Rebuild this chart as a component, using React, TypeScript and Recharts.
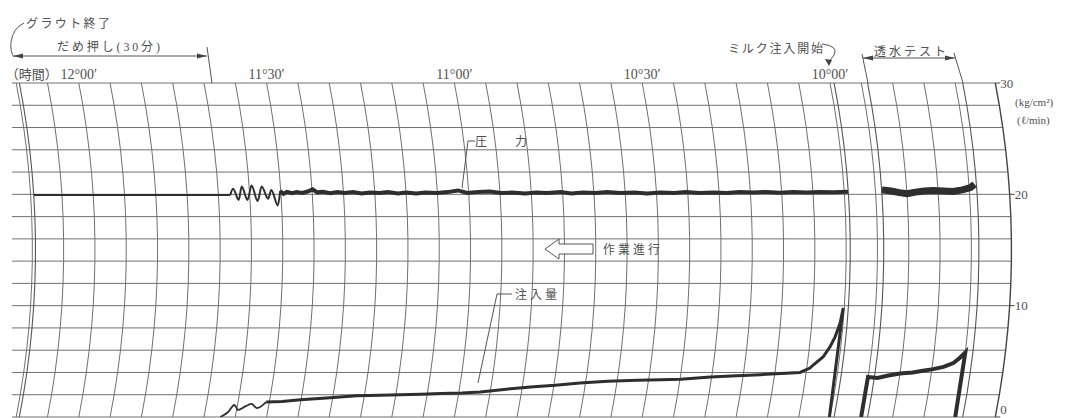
import React from "react";
import { LineChart, Line, XAxis, YAxis, ReferenceLine } from "recharts";

// time = minutes after 10:00 (the recorder runs right to left)
const timeTicks = [0, 30, 60, 90, 120];
const timeLabels = ["10°00′", "10°30′", "11°00′", "11°30′", "12°00′"];
const valueTicks = [0, 10, 20, 30];
const valueLevels = [0, 2, 4, 6, 8, 10, 12, 14, 16, 18, 20, 22, 24, 26, 28, 30];
const gridMinutes = [
  -20, -15, -10, -5, 0, 5, 10, 15, 20, 25, 30, 35, 40, 45, 50, 55, 60, 65, 70, 75, 80, 85, 90, 95, 100,
  105, 110, 115, 120, 125, 130,
];
const penSweeps = [129.5, -0.65, -6.0, -21.2];
const AXIS_T = -26.4;

// 圧力 (kg/cm²): hold period, swing after the pump stops, grouting, permeability test
const pressureHold = [[129.5, 19.95], [98.1, 19.95]];
const pressureSwing = [
  [98.1, 19.95], [97.6, 20.5], [96.8, 19.5], [96.2, 20.7], [95.4, 19.5], [94.6, 20.8],
  [93.8, 19.4], [93.0, 20.7], [92.1, 19.6], [91.5, 20.4], [90.6, 19.0], [90.1, 20.3],
];
const pressureGrout = [
  [90.1, 20.3], [89.6, 20.05], [89.0, 20.22], [88.2, 20.1], [87.5, 20.2], [86.6, 20.12], [85.7, 20.25],
  [84.9, 20.45], [84.2, 20.18], [83.3, 20.22], [82.1, 20.1], [81.0, 20.2], [79.8, 20.12], [78.5, 20.2],
  [77.1, 20.08], [75.8, 20.17], [74.2, 20.12], [72.9, 20.2], [71.3, 20.08], [70.0, 20.16], [68.4, 20.08],
  [66.9, 20.16], [65.1, 20.12], [63.4, 20.2], [61.7, 20.35], [60.2, 20.12], [58.5, 20.22], [56.6, 20.26],
  [54.8, 20.12], [53.1, 20.16], [51.0, 20.08], [49.2, 20.16], [47.5, 20.12], [45.3, 20.2], [43.6, 20.08],
  [41.8, 20.16], [39.7, 20.12], [37.9, 20.2], [35.8, 20.12], [33.6, 20.16], [31.5, 20.08], [29.4, 20.16],
  [27.2, 20.12], [25.3, 20.2], [23.1, 20.12], [21.0, 20.16], [18.8, 20.12], [16.7, 20.22], [14.5, 20.16],
  [12.4, 20.22], [10.3, 20.14], [8.2, 20.22], [6.0, 20.16], [3.9, 20.22], [1.8, 20.18], [-0.6, 20.24],
];
const pressureTest = [
  [-6.04, 20.4], [-7.5, 20.3], [-8.8, 20.15], [-10.0, 20.05], [-11.4, 20.2], [-12.8, 20.3],
  [-14.2, 20.35], [-15.8, 20.3], [-17.4, 20.25], [-18.9, 20.4], [-20.2, 20.6], [-20.9, 20.9],
];

// 注入量 (l/min)
const flowSettle = [
  [97.4, 0], [96.3, 0.45], [95.5, 1.08], [94.8, 0.63], [93.6, 1.0], [92.8, 1.17], [91.8, 0.8], [90.5, 1.35],
];
const flowGrout = [
  [90.5, 1.35], [88.0, 1.4], [85.1, 1.55], [81.0, 1.7], [76.2, 1.9], [72.5, 1.95], [69.3, 2.0],
  [66.0, 2.05], [62.9, 2.1], [59.5, 2.15], [56.6, 2.25], [52.5, 2.5], [48.7, 2.7], [44.8, 2.85],
  [40.9, 3.05], [36.5, 3.2], [31.8, 3.3], [28.0, 3.35], [24.9, 3.4], [20.2, 3.6], [16.0, 3.7],
  [12.3, 3.8], [9.0, 3.9], [6.0, 4.0], [4.5, 4.4], [4.06, 4.67], [2.64, 5.39], [1.73, 6.29],
  [1.09, 7.18], [0.48, 8.44], [0.16, 9.79], [0.1, 0],
];
const flowTest = [
  [-4.97, 0], [-4.97, 3.6], [-6.5, 3.5], [-8.0, 3.7], [-10.0, 3.9], [-12.0, 4.0], [-13.6, 4.15],
  [-15.2, 4.3], [-16.8, 4.5], [-18.3, 4.85], [-19.2, 5.3], [-20.0, 5.8], [-20.0, 0],
];

const W = 1072;
const H = 418;
const MARGIN = { top: 63, right: 17, bottom: 1, left: 12 };
const X_AXIS_H = 20;
const Y_AXIS_W = 40;
const T_MAX = 130.67;
const T_MIN = -29.55;
const PLOT_W = W - MARGIN.left - MARGIN.right - Y_AXIS_W;
const PLOT_H = H - MARGIN.top - MARGIN.bottom - X_AXIS_H;
const PPM = PLOT_W / (T_MAX - T_MIN);
const PPU = PLOT_H / 30;
const ARC_R = 870;

const FONT = "'Liberation Serif', 'Noto Sans CJK JP', serif";
const GRID = "#707070";
const INK = "#2e2e2e";
const TEXT = "#505050";

// recorder paper: time lines are arcs, pen follows the same arc
const bulge = (v: number) =>
  Math.sqrt(ARC_R ** 2 - ((v - 15) * PPU) ** 2) - Math.sqrt(ARC_R ** 2 - (15 * PPU) ** 2);
const onArc = (t: number, v: number) => t - bulge(v) / PPM;
const toPoints = (rows: number[][]) => rows.map(([t, v]) => ({ x: onArc(t, v), y: v }));
const arc = (t: number) => valueLevels.map((v) => ({ x: onArc(t, v), y: v }));

function TimeTick({ x, y, payload }: any) {
  const label = timeLabels[timeTicks.indexOf(payload.value)];
  return (
    <g fontFamily={FONT} fill={TEXT}>
      {payload.value === 120 && (
        <text x={x - 21} y={y - 4} fontSize={13} textAnchor="end">
          （時間）
        </text>
      )}
      <text x={x} y={y - 4} fontSize={14} textAnchor="middle">
        {label}
      </text>
    </g>
  );
}

function ValueTick({ x, y, payload }: any) {
  const ax = x - (AXIS_T - T_MIN) * PPM + bulge(payload.value);
  const atEdge = payload.value === 0;
  return (
    <g>
      <line x1={ax} x2={ax + 5} y1={y} y2={y} stroke="#444" />
      <text
        x={ax + 5}
        y={atEdge ? y - 3 : y}
        dy={atEdge ? 0 : "0.35em"}
        fontSize={13}
        fontFamily={FONT}
        fill={TEXT}
      >
        {payload.value}
      </text>
    </g>
  );
}

function Annotations() {
  return (
    <svg width={W} height={H} style={{ position: "absolute", left: 0, top: 0, pointerEvents: "none" }}>
      <g fill={TEXT} fontFamily={FONT} fontSize={12}>
        <text x={26} y={28} textLength={84} lengthAdjust="spacing">グラウト終了</text>
        <text x={57} y={51} textLength={103} lengthAdjust="spacing">だめ押し(30分)</text>
        <text x={728} y={53} textLength={95} lengthAdjust="spacing">ミルク注入開始</text>
        <text x={874} y={56} textLength={72} lengthAdjust="spacing">透水テスト</text>
        <text x={475} y={146} textLength={52} lengthAdjust="spacing">圧　力</text>
        <text x={515} y={299} textLength={42} lengthAdjust="spacing">注入量</text>
        <text x={603} y={254} textLength={57} lengthAdjust="spacing">作業進行</text>
        <text x={1015} y={106} fontSize={11}>(kg/cm²)</text>
        <text x={1017} y={124} fontSize={11}>(ℓ/min)</text>
      </g>
      <g stroke="#555" fill="none" strokeWidth={1}>
        <path d="M24,23 Q13,28 11,42 Q10,52 14,57" />
        <line x1={14} y1={56} x2={207} y2={56} />
        <line x1={207} y1={47} x2={212} y2={83} />
        <path d="M822,44 Q839,46 834,55 Q831,59 829,62" />
        <line x1={863} y1={58} x2={955} y2={58} />
        <line x1={862} y1={54} x2={868} y2={83} />
        <line x1={954} y1={53} x2={963} y2={83} />
        <path d="M475,141 L468,141 L462,188" />
        <path d="M512,294 L497,294 L478,383" />
        <polygon points="545,249 559,239 559,244 593,244 593,254 559,254 559,259" fill="#fff" />
      </g>
      <g fill="#444">
        <polygon points="13,56 23,53.5 23,58.5" />
        <polygon points="207,56 197,53.5 197,58.5" />
        <polygon points="829,66 825,59 832,60" />
        <polygon points="863,58 873,55.5 873,60.5" />
        <polygon points="955,58 945,55.5 945,60.5" />
      </g>
    </svg>
  );
}

export default function App() {
  return (
    <div style={{ position: "absolute", left: 0, top: 0, width: W, height: H, background: "#fff" }}>
      <LineChart width={W} height={H} margin={MARGIN}>
        <XAxis
          type="number"
          dataKey="x"
          orientation="top"
          height={X_AXIS_H}
          domain={[T_MIN, T_MAX]}
          reversed
          allowDataOverflow
          ticks={timeTicks}
          interval={0}
          axisLine={false}
          tickLine={false}
          tickSize={0}
          tickMargin={0}
          tick={<TimeTick />}
        />
        <YAxis
          type="number"
          orientation="right"
          width={Y_AXIS_W}
          domain={[0, 30]}
          ticks={valueTicks}
          interval={0}
          allowDataOverflow
          axisLine={false}
          tickLine={false}
          tickSize={0}
          tickMargin={0}
          tick={<ValueTick />}
        />
        {valueLevels.map((v) => (
          <ReferenceLine
            key={`h${v}`}
            segment={[
              { x: T_MAX, y: v },
              { x: onArc(AXIS_T, v), y: v },
            ]}
            stroke={GRID}
            strokeWidth={1}
          />
        ))}
        {gridMinutes.map((t) => (
          <Line
            key={`g${t}`}
            data={arc(t)}
            dataKey="y"
            stroke={GRID}
            strokeWidth={1}
            dot={false}
            activeDot={false}
            isAnimationActive={false}
          />
        ))}
        {penSweeps.map((t) => (
          <Line
            key={`s${t}`}
            data={arc(t)}
            dataKey="y"
            stroke="#555"
            strokeWidth={1.1}
            dot={false}
            activeDot={false}
            isAnimationActive={false}
          />
        ))}
        <Line data={arc(AXIS_T)} dataKey="y" stroke="#444" strokeWidth={1.4} dot={false} activeDot={false} isAnimationActive={false} />
        <Line data={toPoints(pressureHold)} dataKey="y" stroke={INK} strokeWidth={2} dot={false} activeDot={false} isAnimationActive={false} />
        <Line data={toPoints(pressureSwing)} type="monotone" dataKey="y" stroke={INK} strokeWidth={2} dot={false} activeDot={false} isAnimationActive={false} />
        <Line data={toPoints(pressureGrout)} dataKey="y" stroke={INK} strokeWidth={4} dot={false} activeDot={false} isAnimationActive={false} />
        <Line data={toPoints(pressureTest)} dataKey="y" stroke={INK} strokeWidth={7} dot={false} activeDot={false} isAnimationActive={false} />
        <Line data={toPoints(flowSettle)} type="monotone" dataKey="y" stroke={INK} strokeWidth={1.8} dot={false} activeDot={false} isAnimationActive={false} />
        <Line data={toPoints(flowGrout)} dataKey="y" stroke={INK} strokeWidth={3} dot={false} activeDot={false} isAnimationActive={false} />
        <Line data={toPoints(flowTest)} dataKey="y" stroke={INK} strokeWidth={4} dot={false} activeDot={false} isAnimationActive={false} />
      </LineChart>
      <Annotations />
    </div>
  );
}
